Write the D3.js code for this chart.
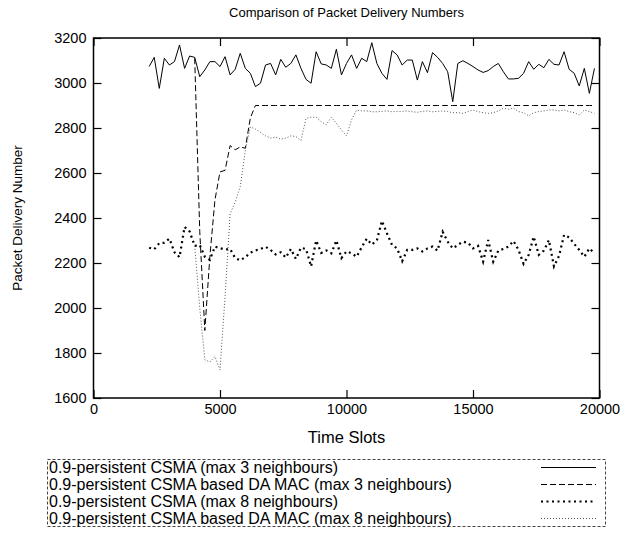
<!DOCTYPE html>
<html>
<head>
<meta charset="utf-8">
<script src="https://cdn.jsdelivr.net/npm/d3@7"></script>
<style>
  body { margin: 0; background: #fff; }
  svg { display: block; font-family: "Liberation Sans", Arial, sans-serif; }
</style>
</head>
<body>
<div id="chart"></div>
<script>
const width = 626;
const height = 537;

// sampling instants (time slots)
const timeSlots = [2200,2400,2600,2800,3000,3200,3400,3600,3800,4000,4200,4400,4600,4800,5000,5200,5400,5600,5800,6000,
  6200,6400,6600,6800,7000,7200,7400,7600,7800,8000,8200,8400,8600,8800,9000,9200,9400,9600,9800,10000,
  10200,10400,10600,10800,11000,11200,11400,11600,11800,12000,12200,12400,12600,12800,13000,13200,13400,13600,13800,14000,
  14200,14400,14600,14800,15000,15200,15400,15600,15800,16000,16200,16400,16600,16800,17000,17200,17400,17600,17800,18000,
  18200,18400,18600,18800,19000,19200,19400,19600,19800];

// 0.9-persistent CSMA (max 3 neighbours)
const csma3 = [3073,3114,2976,3110,3080,3095,3169,3065,3120,3114,3028,3058,3095,3095,3073,3117,3036,3061,3132,3065,
  3043,2984,2999,3080,3087,3036,3105,3070,3087,3125,3065,3016,2999,3139,3085,3080,3065,3150,3036,3087,
  3125,3065,3110,3095,3179,3087,3043,3016,3144,3125,3080,3102,3102,3013,3095,3046,3135,3114,3087,3050,
  2917,3087,3099,3087,3073,3058,3047,3055,3073,3087,3050,3018,3018,3021,3043,3095,3061,3083,3068,3105,
  3083,3080,3139,3061,3043,2987,3065,2954,3065];

// DA MAC series start at 4000 time slots
const daTimeSlots = timeSlots.slice(9);

// 0.9-persistent CSMA based DA MAC (max 3 neighbours)
const daMac3 = [3110,2340,1900,2230,2480,2605,2612,2722,2703,2716,2710,2845,2900,2900,2900,2900,2900,2900,2900,2900,
  2900,2900,2900,2900,2900,2900,2900,2900,2900,2900,2900,2900,2900,2900,2900,2900,2900,2900,2900,2900,
  2900,2900,2900,2900,2900,2900,2900,2900,2900,2900,2900,2900,2900,2900,2900,2900,2900,2900,2900,2900,
  2900,2900,2900,2900,2900,2900,2900,2900,2900,2900,2900,2900,2900,2900,2900,2900,2900,2900,2900,2900];

// 0.9-persistent CSMA (max 8 neighbours)
const csma8 = [2268,2261,2288,2290,2308,2248,2226,2360,2340,2276,2280,2228,2214,2273,2266,2260,2262,2222,2212,2226,
  2246,2256,2262,2272,2258,2238,2248,2224,2262,2218,2268,2262,2185,2300,2245,2256,2243,2300,2222,2252,
  2243,2228,2270,2308,2282,2300,2387,2332,2280,2265,2208,2258,2258,2265,2251,2265,2273,2255,2339,2295,
  2265,2280,2295,2290,2265,2276,2206,2302,2206,2255,2262,2273,2298,2258,2196,2236,2317,2236,2255,2302,
  2185,2231,2325,2314,2285,2258,2228,2265,2243];

// 0.9-persistent CSMA based DA MAC (max 8 neighbours)
const daMac8 = [2276,2000,1770,1760,1785,1725,2050,2420,2470,2540,2700,2805,2795,2780,2765,2755,2760,2750,2755,2765,
  2762,2745,2843,2848,2848,2828,2814,2848,2821,2791,2765,2836,2880,2876,2876,2872,2872,2874,2876,2872,
  2874,2874,2876,2872,2870,2874,2876,2872,2874,2876,2873,2868,2868,2865,2873,2880,2873,2868,2865,2868,
  2876,2888,2883,2888,2873,2868,2854,2868,2873,2876,2880,2880,2876,2880,2873,2868,2858,2880,2873,2865];

const xTicks = [0, 5000, 10000, 15000, 20000];
const yTicks = [1600, 1800, 2000, 2200, 2400, 2600, 2800, 3000, 3200];

const legendLabels = [
  "0.9-persistent CSMA (max 3 neighbours)",
  "0.9-persistent CSMA based DA MAC (max 3 neighbours)",
  "0.9-persistent CSMA (max 8 neighbours)",
  "0.9-persistent CSMA based DA MAC (max 8 neighbours)"
];

const margin = {top: 38, right: 26.5, bottom: 139, left: 93.5};
const plotW = width - margin.left - margin.right;
const plotH = height - margin.top - margin.bottom;

const svg = d3.select("#chart").append("svg")
  .attr("width", width).attr("height", height);

const x = d3.scaleLinear().domain([0, 20000]).range([0, plotW]);
const y = d3.scaleLinear().domain([1600, 3200]).range([plotH, 0]);

const g = svg.append("g").attr("transform", "translate(" + margin.left + "," + margin.top + ")");

// axes, ticks pointing inwards on all four sides
var styleAxis = function(sel) {
  sel.select(".domain").remove();
  sel.selectAll(".tick line").attr("stroke", "#000").attr("stroke-width", 1.2);
  sel.selectAll("text").attr("font-size", 14.5).attr("fill", "#000")
    .attr("font-family", "Liberation Sans, Arial, sans-serif");
};

g.append("g").attr("transform", "translate(0," + plotH + ")")
  .call(d3.axisBottom(x).tickValues(xTicks).tickSize(-8).tickPadding(6).tickFormat(d3.format("d")))
  .call(styleAxis);
g.append("g")
  .call(d3.axisTop(x).tickValues(xTicks).tickSize(-8).tickFormat(""))
  .call(styleAxis);
g.append("g")
  .call(d3.axisLeft(y).tickValues(yTicks).tickSize(-8).tickPadding(7).tickFormat(d3.format("d")))
  .call(styleAxis);
g.append("g").attr("transform", "translate(" + plotW + ",0)")
  .call(d3.axisRight(y).tickValues(yTicks).tickSize(-8).tickFormat(""))
  .call(styleAxis);

g.append("rect")
  .attr("width", plotW).attr("height", plotH)
  .attr("fill", "none").attr("stroke", "#000").attr("stroke-width", 1.5);

// series
const seriesStyles = [
  {times: timeSlots, values: csma3, width: 1, dash: null, color: "#000"},
  {times: daTimeSlots, values: daMac3, width: 1, dash: "6,3", color: "#000"},
  {times: timeSlots, values: csma8, width: 2.2, dash: "2,3.5", color: "#000"},
  {times: daTimeSlots, values: daMac8, width: 1, dash: "1,2", color: "#555"}
];

const line = d3.line()
  .x(function(d) { return x(d[0]); })
  .y(function(d) { return y(d[1]); });

seriesStyles.forEach(function(s) {
  var pts = s.times.map(function(t, i) { return [t, s.values[i]]; });
  g.append("path").datum(pts)
    .attr("d", line)
    .attr("fill", "none")
    .attr("stroke", s.color)
    .attr("stroke-width", s.width)
    .attr("stroke-dasharray", s.dash)
    .attr("stroke-linejoin", "miter");
});

// titles
svg.append("text")
  .attr("x", margin.left + plotW / 2).attr("y", 17)
  .attr("text-anchor", "middle").attr("font-size", 13)
  .text("Comparison of Packet Delivery Numbers");

svg.append("text")
  .attr("x", margin.left + plotW / 2).attr("y", 443)
  .attr("text-anchor", "middle").attr("font-size", 16.5)
  .text("Time Slots");

svg.append("text")
  .attr("transform", "translate(22," + (margin.top + plotH / 2) + ") rotate(-90)")
  .attr("text-anchor", "middle").attr("font-size", 13.5)
  .text("Packet Delivery Number");

// legend
const legend = svg.append("g");
legend.append("rect")
  .attr("x", 47.5).attr("y", 459.5).attr("width", 558).attr("height", 67)
  .attr("fill", "none").attr("stroke", "#444").attr("stroke-width", 1)
  .attr("stroke-dasharray", "3,2");

legendLabels.forEach(function(label, i) {
  var cy = 467.5 + i * 17;
  legend.append("text")
    .attr("x", 49).attr("y", cy + 5.5)
    .attr("font-size", 16)
    .text(label);
  legend.append("line")
    .attr("x1", 541).attr("x2", 596)
    .attr("y1", cy).attr("y2", cy)
    .attr("stroke", seriesStyles[i].color)
    .attr("stroke-width", seriesStyles[i].width)
    .attr("stroke-dasharray", seriesStyles[i].dash);
});
</script>
</body>
</html>
